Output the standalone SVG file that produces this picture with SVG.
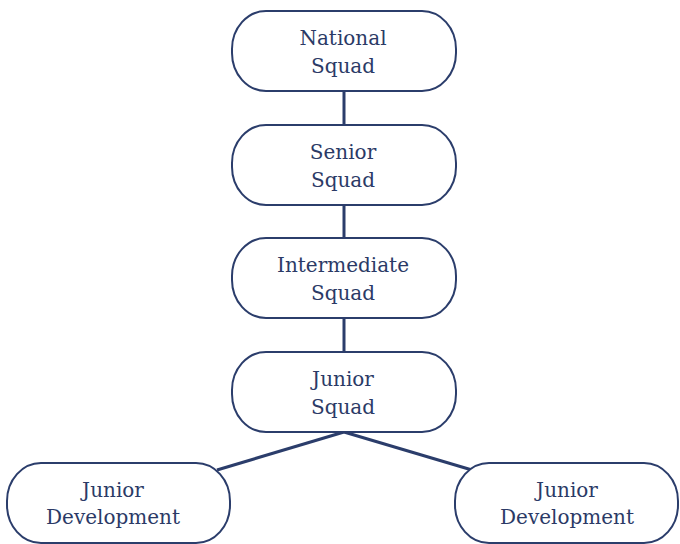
<svg xmlns="http://www.w3.org/2000/svg" width="680" height="544" viewBox="0 0 680 544">
<style>
.box{fill:#fff;stroke:#2b3d6b;stroke-width:2}
.lbl{font-family:"DejaVu Serif","Liberation Serif",serif;font-size:20px;fill:#2b3a66;text-anchor:middle}
.con{stroke:#2b3d6b;stroke-width:3;fill:none}
</style>
<rect width="680" height="544" fill="#fff"/>
<g id="connectors">
<line class="con" x1="344" y1="91" x2="344" y2="125"/>
<line class="con" x1="344" y1="205" x2="344" y2="238"/>
<line class="con" x1="344" y1="318" x2="344" y2="352"/>
<line class="con" x1="344" y1="432" x2="217" y2="470"/>
<line class="con" x1="344" y1="432" x2="472" y2="470"/>
</g>
<g id="national">
<rect class="box" x="232" y="11" width="224" height="80" rx="34" ry="38"/>
<text class="lbl" x="343" y="45">National</text>
<text class="lbl" x="343" y="73">Squad</text>
</g>
<g id="senior">
<rect class="box" x="232" y="125" width="224" height="80" rx="34" ry="38"/>
<text class="lbl" x="343" y="159">Senior</text>
<text class="lbl" x="343" y="187">Squad</text>
</g>
<g id="intermediate">
<rect class="box" x="232" y="238" width="224" height="80" rx="34" ry="38"/>
<text class="lbl" x="343" y="272">Intermediate</text>
<text class="lbl" x="343" y="300">Squad</text>
</g>
<g id="junior">
<rect class="box" x="232" y="352" width="224" height="80" rx="34" ry="38"/>
<text class="lbl" x="343" y="386">Junior</text>
<text class="lbl" x="343" y="414">Squad</text>
</g>
<g id="devLeft">
<rect class="box" x="7" y="463" width="223" height="80" rx="34" ry="38"/>
<text class="lbl" x="113" y="497">Junior</text>
<text class="lbl" x="113" y="524">Development</text>
</g>
<g id="devRight">
<rect class="box" x="455" y="463" width="223" height="80" rx="34" ry="38"/>
<text class="lbl" x="567" y="497">Junior</text>
<text class="lbl" x="567" y="524">Development</text>
</g>
</svg>
